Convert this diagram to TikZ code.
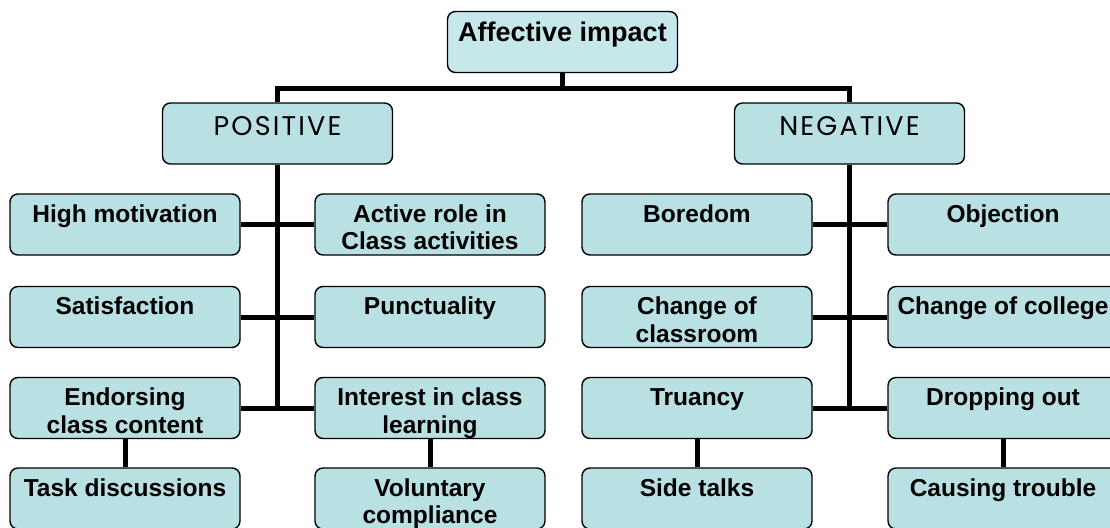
\documentclass[tikz,border=0pt]{standalone}
\usepackage{fontspec}
\setmainfont{Liberation Sans}
\newfontfamily\headfont[LetterSpace=8]{Poppins}

\definecolor{boxfill}{RGB}{185,224,227}
\definecolor{rootfill}{RGB}{199,232,234}

% text sits at the top of a fixed 230 x 61 box
\newcommand{\boxtext}[2][28]{\parbox[t][61pt][t]{230pt}{\centering\rule{0pt}{#1pt}#2}}

\begin{document}
\begin{tikzpicture}
[x=1pt,y=-1pt,
 box/.style={draw=black,line width=1.4pt,rounded corners=8pt,fill=boxfill,
    inner sep=0pt,font=\bfseries\fontsize{24.5}{27.5}\selectfont},
 head/.style={box,font=\headfont\fontsize{27}{30}\selectfont},
 root/.style={box,fill=rootfill,font=\bfseries\fontsize{27}{30}\selectfont},
 link/.style={line width=5pt}]
\useasboundingbox (0,0) rectangle (1110,527);

\node[root] (root) at (562.5,42) {\boxtext[30]{Affective impact}};
\node[head] (pos) at (277.5,133.5) {\boxtext[32]{POSITIVE}};
\node[head] (neg) at (849.5,133.5) {\boxtext[32]{NEGATIVE}};

% positive side
\node[box] (hm) at (125,224.5) {\boxtext{High motivation}};
\node[box] (ar) at (430,224.5) {\boxtext{Active role in\\Class activities}};
\node[box] (sat) at (125,317) {\boxtext{Satisfaction}};
\node[box] (pun) at (430,317) {\boxtext{Punctuality}};
\node[box] (endo) at (125,408) {\boxtext{Endorsing\\class content}};
\node[box] (int) at (430,408) {\boxtext{Interest in class\\learning}};
\node[box] (task) at (125,498.5) {\boxtext{Task discussions}};
\node[box] (vol) at (430,498.5) {\boxtext{Voluntary\\compliance}};

% negative side
\node[box] (bor) at (697,224.5) {\boxtext{Boredom}};
\node[box] (obj) at (1003,224.5) {\boxtext{Objection}};
\node[box] (chr) at (697,317) {\boxtext{Change of\\classroom}};
\node[box] (chc) at (1003,317) {\boxtext{Change of college}};
\node[box] (tru) at (697,408) {\boxtext{Truancy}};
\node[box] (drop) at (1003,408) {\boxtext{Dropping out}};
\node[box] (side) at (697,498.5) {\boxtext{Side talks}};
\node[box] (cause) at (1003,498.5) {\boxtext{Causing trouble}};

\coordinate (bar) at (562.5,88);

\draw [link] (root.south) -- (bar);
\draw [link] (pos.north) |- (bar) -| (neg.north);

\draw [link] (pos.south) -- (pos.south |- endo.east);
\draw [link] (hm.east) -- (ar.west);
\draw [link] (sat.east) -- (pun.west);
\draw [link] (endo.east) -- (int.west);
\draw [link] (endo.south) -- (task.north);
\draw [link] (int.south) -- (vol.north);

\draw [link] (neg.south) -- (neg.south |- tru.east);
\draw [link] (bor.east) -- (obj.west);
\draw [link] (chr.east) -- (chc.west);
\draw [link] (tru.east) -- (drop.west);
\draw [link] (tru.south) -- (side.north);
\draw [link] (drop.south) -- (cause.north);
\end{tikzpicture}
\end{document}
